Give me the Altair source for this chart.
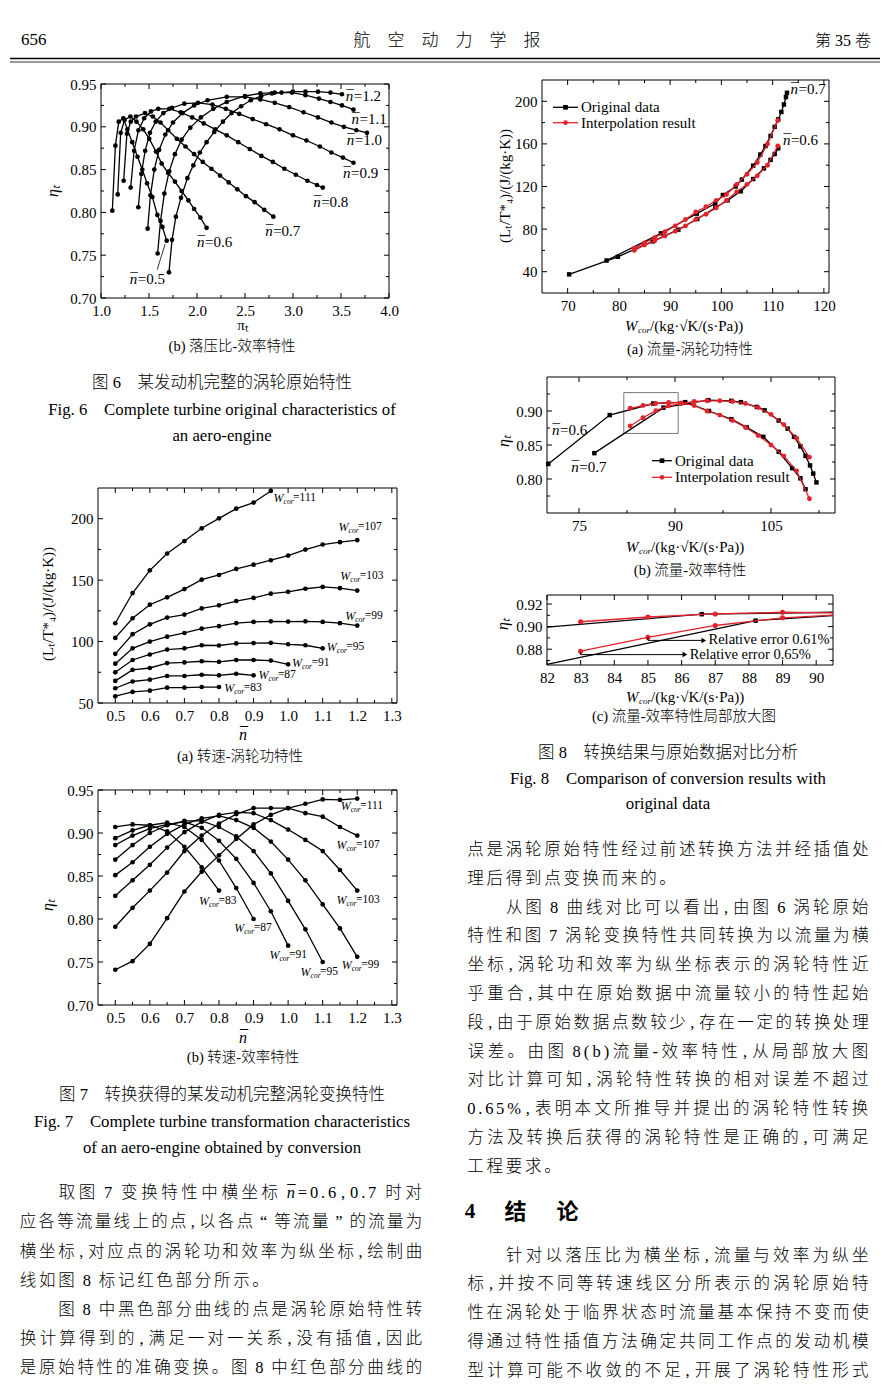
import altair as alt
import pandas as pd

# =============================== DATA ===============================
# Fig.6(b): efficiency vs pressure ratio, constant relative speed lines
F6_SPEEDS = ["0.5", "0.6", "0.7", "0.8", "0.9", "1.0", "1.1", "1.2"]
F6_N05_PI = [1.118, 1.150, 1.185, 1.233, 1.275, 1.325, 1.380, 1.430, 1.480, 1.535, 1.587, 1.640, 1.684]
F6_N05_ETA = [0.802, 0.878, 0.906, 0.910, 0.897, 0.882, 0.865, 0.850, 0.834, 0.818, 0.797, 0.783, 0.767]
F6_N06_PI = [1.174, 1.205, 1.245, 1.306, 1.370, 1.440, 1.503, 1.573, 1.632, 1.700, 1.770, 1.840, 1.910, 1.970, 2.035, 2.100]
F6_N06_ETA = [0.821, 0.893, 0.908, 0.912, 0.906, 0.897, 0.886, 0.871, 0.857, 0.846, 0.836, 0.825, 0.814, 0.804, 0.794, 0.782]
F6_N07_PI = [1.236, 1.270, 1.310, 1.365, 1.458, 1.540, 1.620, 1.700, 1.790, 1.880, 1.970, 2.060, 2.150, 2.240, 2.330, 2.420, 2.510, 2.600, 2.700, 2.795]
F6_N07_ETA = [0.837, 0.892, 0.906, 0.912, 0.916, 0.912, 0.905, 0.896, 0.886, 0.877, 0.868, 0.859, 0.851, 0.843, 0.835, 0.827, 0.819, 0.812, 0.803, 0.795]
F6_N08_PI = [1.309, 1.345, 1.390, 1.450, 1.520, 1.597, 1.712, 1.830, 1.950, 2.070, 2.190, 2.310, 2.430, 2.550, 2.670, 2.790, 2.910, 3.030, 3.150, 3.250, 3.310]
F6_N08_ETA = [0.829, 0.872, 0.896, 0.910, 0.918, 0.921, 0.921, 0.917, 0.911, 0.904, 0.897, 0.890, 0.882, 0.874, 0.866, 0.859, 0.851, 0.844, 0.837, 0.832, 0.829]
F6_N09_PI = [1.389, 1.420, 1.460, 1.510, 1.570, 1.650, 1.740, 1.868, 2.010, 2.160, 2.300, 2.440, 2.580, 2.720, 2.860, 3.000, 3.140, 3.280, 3.400, 3.520, 3.630]
F6_N09_ETA = [0.806, 0.845, 0.872, 0.893, 0.906, 0.916, 0.922, 0.927, 0.928, 0.926, 0.921, 0.915, 0.909, 0.903, 0.897, 0.890, 0.884, 0.877, 0.870, 0.864, 0.858]
F6_N10_PI = [1.486, 1.515, 1.555, 1.605, 1.670, 1.750, 1.850, 1.970, 2.110, 2.310, 2.500, 2.660, 2.810, 2.960, 3.110, 3.260, 3.400, 3.530, 3.660, 3.770]
F6_N10_ETA = [0.781, 0.820, 0.850, 0.873, 0.891, 0.905, 0.916, 0.925, 0.931, 0.935, 0.935, 0.932, 0.928, 0.923, 0.917, 0.911, 0.905, 0.900, 0.896, 0.893]
F6_N11_PI = [1.590, 1.620, 1.660, 1.710, 1.770, 1.840, 1.930, 2.040, 2.170, 2.310, 2.500, 2.660, 2.810, 2.990, 3.130, 3.270, 3.390, 3.510, 3.630]
F6_N11_ETA = [0.752, 0.790, 0.822, 0.848, 0.868, 0.885, 0.899, 0.911, 0.921, 0.929, 0.936, 0.939, 0.940, 0.940, 0.937, 0.933, 0.929, 0.925, 0.920]
F6_N12_PI = [1.708, 1.740, 1.780, 1.833, 1.900, 1.962, 2.030, 2.100, 2.180, 2.270, 2.360, 2.460, 2.560, 2.670, 2.780, 2.880, 3.000, 3.130, 3.260, 3.390, 3.510]
F6_N12_ETA = [0.730, 0.768, 0.795, 0.817, 0.840, 0.855, 0.870, 0.882, 0.894, 0.906, 0.916, 0.924, 0.931, 0.936, 0.939, 0.940, 0.941, 0.941, 0.941, 0.940, 0.938]
F6_LABEL_PI = [1.30, 2.00, 2.71, 3.21, 3.52, 3.56, 3.61, 3.55]
F6_LABEL_ETA = [0.722, 0.766, 0.778, 0.812, 0.846, 0.885, 0.909, 0.936]
F6_LEADER_PI = [1.585, 1.668]
F6_LEADER_ETA = [0.733, 0.763]

# Fig.8(a): turbine work vs corrected flow
F8A_O06_W = [70.3, 79.8, 86.6, 91.6, 95.3, 98.8, 101.2, 103.8, 106.2, 108.3, 109.6, 110.4, 111.1]
F8A_O06_L = [37.5, 54.0, 68.5, 79.5, 89.5, 100.0, 107.0, 115.5, 127.0, 137.0, 145.0, 150.5, 156.0]
F8A_O07_W = [77.6, 88.2, 95.2, 98.8, 100.3, 102.8, 104.0, 106.2, 107.6, 108.6, 109.6, 110.4, 111.1, 111.7, 112.2, 112.6, 112.8]
F8A_O07_L = [50.5, 76.0, 94.5, 104.0, 112.0, 120.0, 126.5, 139.5, 150.0, 158.0, 167.5, 176.0, 183.0, 190.0, 197.0, 204.0, 208.0]
F8A_R_W = [83, 85, 87, 89, 91, 93, 95, 97, 99, 101, 103, 105, 107, 109, 111]
F8A_R06_L = [60, 65, 69, 73.5, 78, 83, 89, 94, 100, 107, 115, 122, 130, 140, 158]
F8A_R07_L = [62, 67, 72, 77.5, 83, 89, 96, 101, 107, 112.5, 122, 131.5, 142.5, 160, 182]
F8A_LABELS = ["0.7", "0.6"]
F8A_LABEL_W = [113.5, 112.0]
F8A_LABEL_L = [212.0, 163.5]

# Fig.8(b): efficiency vs corrected flow
F8B_O06_W = [70.2, 79.8, 86.6, 91.6, 95.3, 98.8, 101.2, 103.8, 106.2, 108.3, 109.6, 110.4]
F8B_O06_E = [0.822, 0.894, 0.911, 0.913, 0.900, 0.888, 0.876, 0.862, 0.840, 0.816, 0.801, 0.785]
F8B_O07_W = [77.4, 88.2, 95.2, 98.8, 100.3, 102.8, 104.0, 106.2, 107.6, 108.6, 109.6, 110.4, 111.1, 111.6, 112.1]
F8B_O07_E = [0.838, 0.905, 0.916, 0.915, 0.913, 0.906, 0.901, 0.886, 0.874, 0.862, 0.848, 0.834, 0.820, 0.808, 0.795]
F8B_R_W = [83, 85, 87, 89, 91, 93, 95, 97, 99, 101, 103, 105, 107, 109, 111]
F8B_R06_E = [0.904, 0.908, 0.911, 0.9125, 0.912, 0.908, 0.900, 0.894, 0.886, 0.876, 0.864, 0.850, 0.834, 0.812, 0.771]
F8B_R07_E = [0.878, 0.890, 0.9005, 0.9075, 0.911, 0.914, 0.915, 0.915, 0.914, 0.911, 0.905, 0.895, 0.880, 0.860, 0.832]
F8B_LABELS = ["0.6", "0.7"]
F8B_LABEL_W = [70.8, 73.8]
F8B_LABEL_E = [0.872, 0.817]
F8B_ZOOM_W = [82.0, 90.5]
F8B_ZOOM_E = [0.867, 0.927]

# Fig.8(c): local enlargement (line ends read where the curves meet the frame)
F8C_O06_W = [82.0, 86.6, 90.5]
F8C_O06_E = [0.8995, 0.9110, 0.9127]
F8C_O07_W = [82.0, 88.2, 90.5]
F8C_O07_E = [0.8665, 0.9053, 0.9097]
F8C_R_W = [83, 85, 87, 89, 90.5]
F8C_R06_E = [0.9043, 0.9085, 0.9112, 0.9127, 0.9122]
F8C_R07_E = [0.8782, 0.8905, 0.9010, 0.9078, 0.9102]
F8C_NOTES = ["Relative error 0.61%", "Relative error 0.65%"]
F8C_ARROW1_W = [85.0, 85.0, 86.66]
F8C_ARROW1_E = [0.8905, 0.8878, 0.8878]
F8C_ARROW2_W = [83.0, 83.0, 86.10]
F8C_ARROW2_E = [0.8775, 0.8752, 0.8752]
F8C_NOTE_W = [86.80, 86.24]
F8C_NOTE_E = [0.8878, 0.8752]

# Fig.7: constant corrected-flow lines vs relative speed
N7 = [0.5, 0.55, 0.6, 0.65, 0.7, 0.75, 0.8, 0.85, 0.9, 0.95, 1.0, 1.05, 1.1, 1.15, 1.2]
F7_FLOWS = ["111", "107", "103", "99", "95", "91", "87", "83"]
F7A_W111 = [114.9, 139.5, 158.0, 171.7, 181.8, 192.2, 200.3, 208.2, 213.1, 222.6]
F7A_W107 = [103.0, 119.0, 130.0, 136.0, 142.7, 150.4, 154.2, 159.1, 162.6, 166.2, 170.0, 174.9, 179.0, 180.9, 182.5]
F7A_W103 = [90.0, 106.0, 114.0, 119.5, 122.0, 127.0, 129.5, 133.0, 135.5, 139.0, 140.5, 143.0, 144.5, 143.5, 141.5]
F7A_W99 = [82.0, 94.5, 100.0, 104.0, 107.0, 110.5, 112.5, 115.0, 116.0, 116.5, 116.3, 116.5, 116.0, 115.0, 113.0]
F7A_W95 = [75.0, 85.0, 89.5, 93.5, 94.5, 97.0, 96.8, 98.5, 98.8, 99.0, 97.8, 97.0, 94.5]
F7A_W91 = [68.0, 77.0, 78.5, 82.5, 83.0, 84.0, 83.5, 85.0, 85.0, 84.5, 81.5]
F7A_W87 = [62.0, 67.5, 69.0, 72.0, 72.0, 73.0, 72.5, 73.8, 72.5]
F7A_W83 = [55.5, 59.0, 60.0, 62.5, 62.5, 63.0, 63.0]
F7A_LABEL_N = [0.958, 1.146, 1.151, 1.165, 1.112, 1.011, 0.914, 0.815]
F7A_LABEL_L = [217.2, 193.2, 153.1, 120.9, 95.8, 82.7, 72.6, 62.0]

F7B_W111 = [0.741, 0.751, 0.771, 0.801, 0.832, 0.855, 0.874, 0.893, 0.910, 0.921, 0.929, 0.934, 0.939, 0.9385, 0.940]
F7B_W107 = [0.791, 0.813, 0.833, 0.854, 0.879, 0.897, 0.911, 0.922, 0.929, 0.929, 0.929, 0.923, 0.919, 0.907, 0.897]
F7B_W103 = [0.827, 0.845, 0.863, 0.883, 0.901, 0.913, 0.921, 0.924, 0.923, 0.915, 0.904, 0.892, 0.879, 0.857, 0.833]
F7B_W99 = [0.851, 0.866, 0.884, 0.899, 0.910, 0.917, 0.920, 0.915, 0.906, 0.890, 0.869, 0.845, 0.817, 0.789, 0.756]
F7B_W95 = [0.869, 0.886, 0.900, 0.909, 0.914, 0.914, 0.907, 0.896, 0.879, 0.853, 0.821, 0.788, 0.750]
F7B_W91 = [0.886, 0.897, 0.905, 0.910, 0.913, 0.906, 0.891, 0.870, 0.842, 0.809, 0.769]
F7B_W87 = [0.894, 0.903, 0.909, 0.912, 0.907, 0.892, 0.868, 0.836, 0.800]
F7B_W83 = [0.907, 0.910, 0.909, 0.902, 0.884, 0.860, 0.833]
F7B_LABEL_N = [1.152, 1.140, 1.140, 1.155, 1.036, 0.946, 0.844, 0.742]
F7B_LABEL_E = [0.931, 0.886, 0.822, 0.7465, 0.738, 0.758, 0.790, 0.821]

# Tick values
F6_XT, F6_XM = [1.0, 1.5, 2.0, 2.5, 3.0, 3.5, 4.0], [1.25, 1.75, 2.25, 2.75, 3.25, 3.75]
F6_YT, F6_YM = [0.70, 0.75, 0.80, 0.85, 0.90, 0.95], [0.725, 0.775, 0.825, 0.875, 0.925]
F8A_XT, F8A_XM = [70, 80, 90, 100, 110, 120], [75, 85, 95, 105, 115]
F8A_YT, F8A_YM = [40, 80, 120, 160, 200], [60, 100, 140, 180]
F8B_XT, F8B_XM = [75, 90, 105], [82.5, 97.5, 112.5]
F8B_YT, F8B_YM = [0.80, 0.85, 0.90], [0.775, 0.825, 0.875, 0.925]
F8C_XT, F8C_XM = [82, 83, 84, 85, 86, 87, 88, 89, 90], []
F8C_YT, F8C_YM = [0.88, 0.90, 0.92], [0.87, 0.89, 0.91]
F7_XT = [0.5, 0.6, 0.7, 0.8, 0.9, 1.0, 1.1, 1.2, 1.3]
F7_XM = [0.55, 0.65, 0.75, 0.85, 0.95, 1.05, 1.15, 1.25]
F7A_YT, F7A_YM = [50, 100, 150, 200], [75, 125, 175]
F7B_YT, F7B_YM = [0.70, 0.75, 0.80, 0.85, 0.90, 0.95], [0.725, 0.775, 0.825, 0.875, 0.925]

# Page texts
HEADER_PAGE = "656"
HEADER_TITLE = "航\u3000空\u3000动\u3000力\u3000学\u3000报"
HEADER_VOL = "第 35 卷"
NB = "n\u0304"
MACRON = "\u00af"
ETA_T = "\u03b7\u209c"
PI_T = "\u03c0\u209c"
WORK_T = "(L\u209c/T*\u2084)/(J/(kg\u00b7K))"
FLOW_T_TAIL = "/(kg\u00b7\u221aK/(s\u00b7Pa))"
CAP_6B = "(b) 落压比-效率特性"
CAP_6 = ["图 6\u3000某发动机完整的涡轮原始特性"]
CAP_6_EN = ["Fig. 6\u2003Complete turbine original characteristics of", "an aero-engine"]
CAP_7A = "(a) 转速-涡轮功特性"
CAP_7B = "(b) 转速-效率特性"
CAP_7 = ["图 7\u3000转换获得的某发动机完整涡轮变换特性"]
CAP_7_EN = ["Fig. 7\u2003Complete turbine transformation characteristics", "of an aero-engine obtained by conversion"]
CAP_8A = "(a) 流量-涡轮功特性"
CAP_8B = "(b) 流量-效率特性"
CAP_8C = "(c) 流量-效率特性局部放大图"
CAP_8 = ["图 8\u3000转换结果与原始数据对比分析"]
CAP_8_EN = ["Fig. 8\u2003Comparison of conversion results with", "original data"]
LEGEND_ENTRIES = ["Original data", "Interpolation result"]

LEFT_BODY = [
    "取图 7 变换特性中横坐标 n\u0304=0.6,0.7 时对",
    "应各等流量线上的点,以各点“等流量”的流量为",
    "横坐标,对应点的涡轮功和效率为纵坐标,绘制曲",
    "线如图 8 标记红色部分所示。",
    "图 8 中黑色部分曲线的点是涡轮原始特性转",
    "换计算得到的,满足一对一关系,没有插值,因此",
    "是原始特性的准确变换。图 8 中红色部分曲线的",
]
LEFT_INDENT = [1, 0, 0, 0, 1, 0, 0]
LEFT_JUSTIFY = [1, 1, 1, 0, 1, 1, 1]
RIGHT_BODY_A = [
    "点是涡轮原始特性经过前述转换方法并经插值处",
    "理后得到点变换而来的。",
    "从图 8 曲线对比可以看出,由图 6 涡轮原始",
    "特性和图 7 涡轮变换特性共同转换为以流量为横",
    "坐标,涡轮功和效率为纵坐标表示的涡轮特性近",
    "乎重合,其中在原始数据中流量较小的特性起始",
    "段,由于原始数据点数较少,存在一定的转换处理",
    "误差。由图 8(b)流量-效率特性,从局部放大图",
    "对比计算可知,涡轮特性转换的相对误差不超过",
    "0.65%,表明本文所推导并提出的涡轮特性转换",
    "方法及转换后获得的涡轮特性是正确的,可满足",
    "工程要求。",
]
RIGHT_INDENT_A = [0, 0, 1, 0, 0, 0, 0, 0, 0, 0, 0, 0]
RIGHT_JUSTIFY_A = [1, 0, 1, 1, 1, 1, 1, 1, 1, 1, 1, 0]
HEADING = ["4", "结", "论"]
RIGHT_BODY_B = [
    "针对以落压比为横坐标,流量与效率为纵坐",
    "标,并按不同等转速线区分所表示的涡轮原始特",
    "性在涡轮处于临界状态时流量基本保持不变而使",
    "得通过特性插值方法确定共同工作点的发动机模",
    "型计算可能不收敛的不足,开展了涡轮特性形式",
]
RIGHT_INDENT_B = [1, 0, 0, 0, 0]
RIGHT_JUSTIFY_B = [1, 1, 1, 1, 1]

# =============================== STYLE / LAYOUT ===============================
PAGE_W, PAGE_H, MARGIN = 874, 1382, 8
SERIF = "Liberation Serif"
MIX = "Liberation Serif, Noto Sans CJK SC"
RED = "#e4222b"


def c(p):
    return p - MARGIN


AXIS_STYLE = dict(ticks=False, domain=False, grid=False, labelFont=SERIF, labelFontSize=15,
                  labelColor="black", labelPadding=5, labelFlush=False, labelOverlap=False,
                  title=None)


class Panel:
    def __init__(self, xdom, ydom, xr, yr, xt, xm, yt, ym, xfmt, yfmt):
        self.xdom, self.ydom, self.xr, self.yr = xdom, ydom, xr, yr
        self.X = alt.X("x:Q", scale=alt.Scale(domain=xdom, range=[c(xr[0]), c(xr[1])], zero=False, nice=False),
                       axis=alt.Axis(orient="bottom", offset=c(yr[0]) - PAGE_H, values=xt, format=xfmt, **AXIS_STYLE))
        self.Y = alt.Y("y:Q", scale=alt.Scale(domain=ydom, range=[c(yr[0]), c(yr[1])], zero=False, nice=False),
                       axis=alt.Axis(orient="left", offset=-c(xr[0]), values=yt, format=yfmt, **AXIS_STYLE))
        self.layers = []
        self._frame(xt, xm, yt, ym)

    def _frame(self, xt, xm, yt, ym):
        xd, yd = self.xdom, self.ydom
        df = pd.DataFrame({"x": [xd[0]], "x2": [xd[1]], "y": [yd[0]], "y2": [yd[1]]})
        self.layers.append(alt.Chart(df).mark_rect(fillOpacity=0, stroke="black", strokeWidth=1).encode(
            x=self.X, x2=alt.X2("x2"), y=self.Y, y2=alt.Y2("y2")))
        dxpp = (xd[1] - xd[0]) / (self.xr[1] - self.xr[0])
        dypp = (yd[1] - yd[0]) / (self.yr[0] - self.yr[1])
        vrows, hrows = [], []
        for vals, ln in ((xt, 5), (xm, 3)):
            for v in vals:
                vrows.append({"x": v, "y": yd[0], "y2": yd[0] + ln * dypp})
                vrows.append({"x": v, "y": yd[1], "y2": yd[1] - ln * dypp})
        for vals, ln in ((yt, 5), (ym, 3)):
            for v in vals:
                hrows.append({"y": v, "x": xd[0], "x2": xd[0] + ln * dxpp})
                hrows.append({"y": v, "x": xd[1], "x2": xd[1] - ln * dxpp})
        self.layers.append(alt.Chart(pd.DataFrame(vrows)).mark_rule(color="black", strokeWidth=1).encode(
            x=self.X, y=self.Y, y2=alt.Y2("y2")))
        self.layers.append(alt.Chart(pd.DataFrame(hrows)).mark_rule(color="black", strokeWidth=1).encode(
            x=self.X, x2=alt.X2("x2"), y=self.Y))

    def curves(self, curves, color, shape=None, size=22, sw=1.3, marker_filter=None):
        rows = []
        for name, xs, ys in curves:
            for i, (a, b) in enumerate(zip(xs, ys)):
                rows.append({"x": a, "y": b, "curve": name, "i": i})
        df = pd.DataFrame(rows)
        self.layers.append(alt.Chart(df).mark_line(color=color, strokeWidth=sw).encode(
            x=self.X, y=self.Y, detail="curve:N", order="i:Q"))
        if shape:
            mdf = df if marker_filter is None else df[df["x"].apply(marker_filter)]
            self.layers.append(alt.Chart(mdf).mark_point(filled=True, shape=shape, size=size, color=color,
                                                         opacity=1, strokeWidth=0).encode(x=self.X, y=self.Y))

    def texts(self, xs, ys, ts, dx=0, dy=0, size=15, style="normal", align="left", font=SERIF):
        df = pd.DataFrame({"x": xs, "y": ys, "t": ts})
        self.layers.append(alt.Chart(df).mark_text(align=align, baseline="middle", dx=dx, dy=dy, fontSize=size,
                                                   fontStyle=style, font=font, color="black").encode(
            x=self.X, y=self.Y, text="t:N"))

    def nbar_labels(self, xs, ys, vals):
        self.texts(xs, ys, ["n"] * len(vals), style="italic")
        self.texts(xs, ys, [MACRON] * len(vals), dx=0.5, dy=-1)
        self.texts(xs, ys, ["=" + v for v in vals], dx=8)

    def wcor_labels(self, xs, ys, vals):
        self.texts(xs, ys, ["W"] * len(vals), style="italic", size=12)
        self.texts(xs, ys, ["cor"] * len(vals), style="italic", size=7.5, dx=10, dy=4)
        self.texts(xs, ys, ["=" + v for v in vals], size=11.5, dx=19.5)

    def chart(self):
        return alt.layer(*self.layers)


# ---------------- Fig 6(b)
p6 = Panel([1.0, 4.0], [0.70, 0.95], (101, 389), (298, 84), F6_XT, F6_XM, F6_YT, F6_YM, ".1f", ".2f")
p6.curves([("0.5", F6_N05_PI, F6_N05_ETA), ("0.6", F6_N06_PI, F6_N06_ETA), ("0.7", F6_N07_PI, F6_N07_ETA),
           ("0.8", F6_N08_PI, F6_N08_ETA), ("0.9", F6_N09_PI, F6_N09_ETA), ("1.0", F6_N10_PI, F6_N10_ETA),
           ("1.1", F6_N11_PI, F6_N11_ETA), ("1.2", F6_N12_PI, F6_N12_ETA)], "black", "circle", 22)
p6.curves([("leader", F6_LEADER_PI, F6_LEADER_ETA)], "black", sw=0.8)
p6.nbar_labels(F6_LABEL_PI, F6_LABEL_ETA, F6_SPEEDS)

# ---------------- Fig 8(a)
p8a = Panel([65, 121], [20, 220], (542, 829), (293, 80), F8A_XT, F8A_XM, F8A_YT, F8A_YM, "d", "d")
p8a.curves([("o06", F8A_O06_W, F8A_O06_L), ("o07", F8A_O07_W, F8A_O07_L)], "black", "square", 20)
p8a.curves([("r06", F8A_R_W, F8A_R06_L), ("r07", F8A_R_W, F8A_R07_L)], RED, "circle", 24)
p8a.nbar_labels(F8A_LABEL_W, F8A_LABEL_L, F8A_LABELS)

# ---------------- Fig 8(b)
p8b = Panel([70, 115], [0.75, 0.95], (547, 835), (513, 377), F8B_XT, F8B_XM, F8B_YT, F8B_YM, "d", ".2f")
zdf = pd.DataFrame({"x": [F8B_ZOOM_W[0]], "x2": [F8B_ZOOM_W[1]], "y": [F8B_ZOOM_E[0]], "y2": [F8B_ZOOM_E[1]]})
p8b.layers.append(alt.Chart(zdf).mark_rect(fillOpacity=0, stroke="#777777", strokeWidth=1).encode(
    x=p8b.X, x2=alt.X2("x2"), y=p8b.Y, y2=alt.Y2("y2")))
p8b.curves([("o06", F8B_O06_W, F8B_O06_E), ("o07", F8B_O07_W, F8B_O07_E)], "black", "square", 20)
p8b.curves([("r06", F8B_R_W, F8B_R06_E), ("r07", F8B_R_W, F8B_R07_E)], RED, "circle", 24)
p8b.nbar_labels(F8B_LABEL_W, F8B_LABEL_E, F8B_LABELS)

# ---------------- Fig 8(c)
inside = lambda v: 82.0 < v < 90.5
p8c = Panel([82, 90.5], [0.866, 0.928], (547, 833), (665, 595), F8C_XT, F8C_XM, F8C_YT, F8C_YM, "d", ".2f")
p8c.curves([("o06", F8C_O06_W, F8C_O06_E), ("o07", F8C_O07_W, F8C_O07_E)], "black", "square", 20,
           marker_filter=inside)
p8c.curves([("r06", F8C_R_W, F8C_R06_E), ("r07", F8C_R_W, F8C_R07_E)], RED, "circle", 26,
           marker_filter=inside)
p8c.curves([("a1", F8C_ARROW1_W, F8C_ARROW1_E), ("a2", F8C_ARROW2_W, F8C_ARROW2_E)], "black", sw=1)
heads = pd.DataFrame({"x": [F8C_ARROW1_W[-1], F8C_ARROW2_W[-1]], "y": [F8C_ARROW1_E[-1], F8C_ARROW2_E[-1]]})
p8c.layers.append(alt.Chart(heads).mark_point(shape="triangle-right", filled=True, size=30, color="black",
                                              opacity=1).encode(x=p8c.X, y=p8c.Y))
p8c.texts(F8C_NOTE_W, F8C_NOTE_E, F8C_NOTES, size=14.5)

# ---------------- Fig 7(a) / 7(b)
F7A = [F7A_W111, F7A_W107, F7A_W103, F7A_W99, F7A_W95, F7A_W91, F7A_W87, F7A_W83]
F7B = [F7B_W111, F7B_W107, F7B_W103, F7B_W99, F7B_W95, F7B_W91, F7B_W87, F7B_W83]
p7a = Panel([0.45, 1.315], [50, 225], (98, 397), (703, 488), F7_XT, F7_XM, F7A_YT, F7A_YM, ".1f", "d")
p7a.curves([(f, N7[:len(v)], v) for f, v in zip(F7_FLOWS, F7A)], "black", "circle", 22)
p7a.wcor_labels(F7A_LABEL_N, F7A_LABEL_L, F7_FLOWS)
p7b = Panel([0.45, 1.315], [0.70, 0.95], (98, 397), (1005, 790), F7_XT, F7_XM, F7B_YT, F7B_YM, ".1f", ".2f")
p7b.curves([(f, N7[:len(v)], v) for f, v in zip(F7_FLOWS, F7B)], "black", "circle", 22)
p7b.wcor_labels(F7B_LABEL_N, F7B_LABEL_E, F7_FLOWS)

# =============================== PAGE TEXT ===============================
PX = alt.Scale(domain=[0, PAGE_W], range=[0, PAGE_W], zero=False, nice=False)
PY = alt.Scale(domain=[0, PAGE_H], range=[0, PAGE_H], zero=False, nice=False)


def page_text(rows, align="center", font=MIX, style="normal", weight="normal"):
    df = pd.DataFrame([{"px": c(x), "py": c(y), "t": t, "fs": fs, "ang": a} for x, y, t, fs, a in rows])
    return alt.Chart(df).mark_text(align=align, baseline="middle", font=font, fontStyle=style,
                                   fontWeight=weight, color="black").encode(
        x=alt.X("px:Q", scale=PX, axis=None), y=alt.Y("py:Q", scale=PY, axis=None), text="t:N",
        size=alt.Size("fs:Q", scale=None), angle=alt.Angle("ang:Q", scale=None))


def tokens(s):
    out, i = [], 0
    while i < len(s):
        if i + 1 < len(s) and s[i + 1] == "\u0304":
            out.append(s[i:i + 2])
            i += 2
        else:
            out.append(s[i])
            i += 1
    return out


def units(t):
    if t == " ":
        return 0.28
    if ord(t[0]) >= 0x2E80 or t in "“”":
        return 1.0
    return {",": 0.55, ".": 0.35, "%": 0.85, "(": 0.45, ")": 0.45, "=": 0.6, "-": 0.45}.get(t, 0.55)


def body_rows(lines, indents, justs, x0, width, y0, dy, fs=16.5, unit=19.2):
    rows, ital = [], []
    for k, (s, ind, ju) in enumerate(zip(lines, indents, justs)):
        toks = tokens(s)
        ws = [units(t) for t in toks]
        ipx = ind * 2 * unit
        u = (width - ipx) / sum(ws) if ju else unit
        cum = 0.0
        for t, w in zip(toks, ws):
            xc = x0 + ipx + (cum + w / 2) * u
            if t == NB:
                ital.append((xc, y0 + k * dy, "n", fs, 0))
                rows.append((xc + 0.5, y0 + k * dy - 1, MACRON, fs, 0))
            elif t != " ":
                rows.append((xc, y0 + k * dy, t, fs, 0))
            cum += w
    return rows, ital


center_rows = [
    (447, 41, HEADER_TITLE, 17, 0),
    (232, 347, CAP_6B, 14.5, 0),
    (222, 383, CAP_6[0], 16.5, 0),
    (240, 757, CAP_7A, 14.5, 0),
    (243, 1058, CAP_7B, 14.5, 0),
    (222, 1095, CAP_7[0], 16.5, 0),
    (690, 350, CAP_8A, 14.5, 0),
    (690, 571, CAP_8B, 14.5, 0),
    (684, 717, CAP_8C, 14.5, 0),
    (668, 752.5, CAP_8[0], 16.5, 0),
    (243, 325, PI_T, 15, 0),
    (505, 186, WORK_T, 15, 270),
    (48, 604, WORK_T, 15, 270),
    (244, 734, MACRON, 16, 0),
    (244, 1037, MACRON, 16, 0),
]
center_serif_rows = [
    (222, 409.5, CAP_6_EN[0], 16.8, 0), (222, 435.5, CAP_6_EN[1], 16.8, 0),
    (222, 1121.5, CAP_7_EN[0], 16.8, 0), (222, 1148, CAP_7_EN[1], 16.8, 0),
    (668, 779, CAP_8_EN[0], 16.8, 0), (668, 804, CAP_8_EN[1], 16.8, 0),
]
italic_center_rows = [
    (53, 191, ETA_T, 16, 270), (504, 441, ETA_T, 16, 270), (503, 624, ETA_T, 16, 270),
    (48, 905, ETA_T, 16, 270), (243, 735, "n", 16, 0), (243, 1038, "n", 16, 0),
]
FLOW_TITLES = [(625, 326), (626, 547), (626, 697)]
italic_left_rows = []
left_rows = [(21, 40, HEADER_PAGE, 17, 0)]
for x0, y0 in FLOW_TITLES:
    italic_left_rows.append((x0, y0, "W", 15, 0))
    italic_left_rows.append((x0 + 13, y0 + 4, "cor", 9, 0))
    left_rows.append((x0 + 25, y0, FLOW_T_TAIL, 15, 0))
# legends (8a, 8b)
LEG_POS = [(553, 578, 107.3, 122.7), (652, 672, 460.7, 477.3)]
leg_rule_rows, leg_pt_rows = [], []
for xa, xb, ya, yb in LEG_POS:
    for (yy, col, sh), lab in zip(((ya, "black", "square"), (yb, RED, "circle")), LEGEND_ENTRIES):
        leg_rule_rows.append({"px": c(xa), "px2": c(xb), "py": c(yy), "w": 1.3, "col": col})
        leg_pt_rows.append({"px": c((xa + xb) / 2), "py": c(yy), "sh": sh, "col": col, "sz": 22})
        left_rows.append((xb + 3, yy, lab, 15, 0))
right_rows = [(871, 41, HEADER_VOL, 16, 0)]

b1, i1 = body_rows(LEFT_BODY, LEFT_INDENT, LEFT_JUSTIFY, 18.5, 405, 1193.3, 29.17)
b2, i2 = body_rows(RIGHT_BODY_A, RIGHT_INDENT_A, RIGHT_JUSTIFY_A, 466, 404, 850, 28.8)
b3, i3 = body_rows(RIGHT_BODY_B, RIGHT_INDENT_B, RIGHT_JUSTIFY_B, 466, 404, 1255.5, 28.8)
body = b1 + b2 + b3
italic_center_rows += i1 + i2 + i3
heading_rows = [(470, 1212, HEADING[0], 21, 0), (515.5, 1212, HEADING[1], 22, 0), (567.5, 1212, HEADING[2], 22, 0)]

header_lines = pd.DataFrame([
    {"px": c(10), "px2": c(880), "py": c(58.5), "w": 1.6, "col": "black"},
    {"px": c(10), "px2": c(880), "py": c(62), "w": 0.8, "col": "black"},
] + leg_rule_rows)
rules = alt.Chart(header_lines).mark_rule().encode(
    x=alt.X("px:Q", scale=PX, axis=None), x2=alt.X2("px2"), y=alt.Y("py:Q", scale=PY, axis=None),
    strokeWidth=alt.StrokeWidth("w:Q", scale=None), color=alt.Color("col:N", scale=None))
leg_points = alt.Chart(pd.DataFrame(leg_pt_rows)).mark_point(filled=True, opacity=1, strokeWidth=0).encode(
    x=alt.X("px:Q", scale=PX, axis=None), y=alt.Y("py:Q", scale=PY, axis=None),
    shape=alt.Shape("sh:N", scale=None), color=alt.Color("col:N", scale=None), size=alt.Size("sz:Q", scale=None))

layers = [p6.chart(), p8a.chart(), p8b.chart(), p8c.chart(), p7a.chart(), p7b.chart(),
          rules, leg_points,
          page_text(center_rows, weight=300),
          page_text(center_serif_rows, font=SERIF),
          page_text(italic_center_rows, font=SERIF, style="italic"),
          page_text(italic_left_rows, align="left", font=SERIF, style="italic"),
          page_text(left_rows, align="left", font=SERIF),
          page_text(right_rows, align="right", weight=300),
          page_text(body, weight=300),
          page_text(heading_rows, weight="bold")]

chart = alt.layer(*layers).resolve_scale(x="independent", y="independent").properties(
    width=PAGE_W, height=PAGE_H, padding=0).configure_view(strokeWidth=0)

chart.save("out.html", embed_options={"renderer": "svg", "actions": False})
